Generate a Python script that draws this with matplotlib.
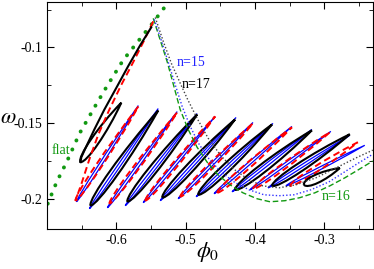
import matplotlib
matplotlib.use("Agg")
import numpy as np
import matplotlib.pyplot as plt
from matplotlib.path import Path
from matplotlib.patches import PathPatch
from matplotlib.ticker import MultipleLocator

plt.rcParams['font.family'] = ['Liberation Serif', 'DejaVu Serif']
plt.rcParams['mathtext.fontset'] = 'stix'

# "flat" green dotted curve
flat_phi = [-0.699, -0.686, -0.671, -0.653, -0.630, -0.614, -0.590, -0.548, -0.522]
flat_om = [-0.2033, -0.1889, -0.1751, -0.1568, -0.1384, -0.1260, -0.1083, -0.0841, -0.0684]

# black: initial descending branch, then loops (bottom -> tip)
blk_desc_phi = [-0.5496, -0.5655, -0.5827, -0.6000, -0.6173, -0.6317, -0.6432, -0.6504, -0.6518]
blk_desc_om = [-0.0867, -0.0985, -0.1122, -0.1267, -0.1411, -0.1542, -0.1653, -0.1725, -0.1758]
blk_bot_phi = [-0.6518, -0.6374, -0.5842, -0.5338, -0.4820, -0.4288, -0.3755, -0.3295]
blk_bot_om = [-0.1758, -0.2046, -0.2020, -0.1993, -0.1974, -0.1941, -0.1915, -0.1908]
blk_tip_phi = [-0.5928, -0.5396, -0.4835, -0.4288, -0.3755, -0.3180, -0.2633, -0.2777]
blk_tip_om = [-0.1365, -0.1417, -0.1443, -0.1476, -0.1509, -0.1548, -0.1574, -0.1797]

# red dashed: descending branch, then loops
red_desc_phi = [-0.5468, -0.5597, -0.5755, -0.5928, -0.6101, -0.6259, -0.6388, -0.6504, -0.6590]
red_desc_om = [-0.0828, -0.0952, -0.1096, -0.1247, -0.1411, -0.1574, -0.1738, -0.1902, -0.2013]
red_bot_phi = [-0.6590, -0.6101, -0.5583, -0.5079, -0.4547, -0.4029, -0.3496]
red_bot_om = [-0.2013, -0.2033, -0.2013, -0.1987, -0.1961, -0.1935, -0.1915]
red_tip_phi = [-0.5683, -0.5122, -0.4576, -0.4029, -0.3468, -0.2921, -0.2518]
red_tip_om = [-0.1391, -0.1430, -0.1456, -0.1502, -0.1528, -0.1561, -0.1627]

# blue solid loops
blu_bot_phi = [-0.6576, -0.6388, -0.6129, -0.5871, -0.5612, -0.5367, -0.5108, -0.4849, -0.4590,
               -0.4331, -0.4072, -0.3813, -0.3554]
blu_bot_om = [-0.2020, -0.2066, -0.2060, -0.2046, -0.2026, -0.2013, -0.2000, -0.1987, -0.1967,
              -0.1954, -0.1941, -0.1928, -0.1915]
blu_tip_phi = [-0.5683, -0.5396, -0.5122, -0.4835, -0.4576, -0.4273, -0.4029, -0.3741, -0.3468,
               -0.3180, -0.2906, -0.2633, -0.2417]
blu_tip_om = [-0.1384, -0.1404, -0.1424, -0.1437, -0.1456, -0.1463, -0.1496, -0.1502, -0.1522,
              -0.1542, -0.1555, -0.1581, -0.1647]

# n=16 green dashed, n=15 blue dotted, n=17 black dotted
n16_phi = [-0.5468, -0.5367, -0.5266, -0.5165, -0.5079, -0.4964, -0.4835, -0.4691, -0.4532, -0.4360, -0.4173,
           -0.3971, -0.3784, -0.3568, -0.3353, -0.3137, -0.2921, -0.2705, -0.2489, -0.2302]
n16_om = [-0.0808, -0.0952, -0.1096, -0.1266, -0.1411, -0.1542, -0.1660, -0.1758, -0.1843, -0.1908, -0.1961,
          -0.2000, -0.2020, -0.2013, -0.1993, -0.1961, -0.1915, -0.1862, -0.1803, -0.1751]
n15_phi = [-0.5453, -0.5353, -0.5252, -0.5151, -0.5050, -0.4935, -0.4806, -0.4662, -0.4489, -0.4302, -0.4086,
           -0.3870, -0.3655, -0.3439, -0.3194, -0.2935, -0.2777, -0.2532, -0.2302]
n15_om = [-0.0815, -0.0952, -0.1096, -0.1247, -0.1391, -0.1522, -0.1640, -0.1738, -0.1823, -0.1889, -0.1941,
          -0.1974, -0.1980, -0.1974, -0.1941, -0.1889, -0.1843, -0.1771, -0.1706]
n17_phi = [-0.5439, -0.5324, -0.5209, -0.5094, -0.4978, -0.4835, -0.4676, -0.4489, -0.4288, -0.4086, -0.3885,
           -0.3655, -0.3410, -0.3122, -0.2835, -0.2547, -0.2302]
n17_om = [-0.0802, -0.0959, -0.1103, -0.1221, -0.1338, -0.1469, -0.1600, -0.1718, -0.1810, -0.1876, -0.1915,
          -0.1928, -0.1908, -0.1862, -0.1797, -0.1731, -0.1679]

fig = plt.figure(figsize=(3.74, 2.69), dpi=100)
ax = fig.add_axes([0.1257, 0.1487, 0.8713, 0.8439])
ax.set_xlim(-0.7, -0.23)
ax.set_ylim(-0.22, -0.07)


def draw_loops(bphi, bom, tphi, tom, half_w, **kw):
    """Thin closed loop from each bottom point to its tip (width in pixels)."""
    tr = ax.transData
    inv = tr.inverted()
    for b0, b1, t0, t1 in zip(bphi, bom, tphi, tom):
        pb = tr.transform((b0, b1))
        pt = tr.transform((t0, t1))
        d = pt - pb
        n = np.array([-d[1], d[0]]) / np.hypot(*d)
        verts = [pb,
                 pb + n * half_w * 1.3 + 0.04 * d, pb + 0.55 * d + n * half_w * 1.3, pt,
                 pb + 0.55 * d - n * half_w * 1.3, pb - n * half_w * 1.3 + 0.04 * d, pb]
        verts = inv.transform(np.array(verts))
        codes = [Path.MOVETO] + [Path.CURVE4] * 6
        ax.add_patch(PathPatch(Path(verts, codes), fill=False, **kw))


green = '#119911'
ax.plot(flat_phi, flat_om, color=green, lw=2.8, linestyle=(0, (0.05, 2.5)), dash_capstyle='round')
ax.plot(n16_phi, n16_om, color=green, lw=1.0, linestyle=(0, (4, 2)))
ax.plot(n15_phi, n15_om, color='#3333ff', lw=1.0, linestyle=(0, (1, 1.5)))
ax.plot(n17_phi, n17_om, color='#444444', lw=1.0, linestyle=(0, (1, 1.5)))

draw_loops(blu_bot_phi, blu_bot_om, blu_tip_phi, blu_tip_om, 1.4, edgecolor='#0000ff', lw=0.9)
ax.plot(red_desc_phi, red_desc_om, color='#ff0000', lw=1.4, linestyle=(0, (3.5, 2)))
draw_loops(red_bot_phi, red_bot_om, red_tip_phi, red_tip_om, 2.9, edgecolor='#ff0000', lw=1.4,
           linestyle=(0, (3.5, 2)))
ax.plot(blk_desc_phi, blk_desc_om, color='black', lw=1.5)
draw_loops(blk_bot_phi, blk_bot_om, blk_tip_phi, blk_tip_om, 4.3, edgecolor='black', lw=1.5)

ax.text(-0.5135, -0.1103, 'n=15', color='#2222ff', fontsize=10, va='center', ha='left')
ax.text(-0.5060, -0.1247, 'n=17', color='black', fontsize=10, va='center', ha='left')
ax.text(-0.3036, -0.1988, 'n=16', color=green, fontsize=10, va='center', ha='left')
ax.text(-0.6935, -0.1679, 'flat', color=green, fontsize=10, va='center', ha='left')

ax.xaxis.set_minor_locator(MultipleLocator(0.05))
ax.yaxis.set_minor_locator(MultipleLocator(0.025))
ax.set_xticks([-0.6, -0.5, -0.4, -0.3])
ax.set_xticklabels(['-0.6', '-0.5', '-0.4', '-0.3'])
ax.set_yticks([-0.2, -0.15, -0.1])
ax.set_yticklabels(['-0.2', '-0.15', '-0.1'])
ax.tick_params(which='both', direction='in', top=True, right=True, labelsize=10)
ax.tick_params(which='major', length=5)
ax.tick_params(which='minor', length=3)
for s in ax.spines.values():
    s.set_linewidth(0.8)
fig.text(208 / 374, 1 - 252 / 269, r'$\phi_0$', fontsize=16, ha='center', va='center')
fig.text(8 / 374, 1 - 118 / 269, r'$\omega$', fontsize=16, ha='center', va='center')

fig.savefig('out.png', dpi=100)
